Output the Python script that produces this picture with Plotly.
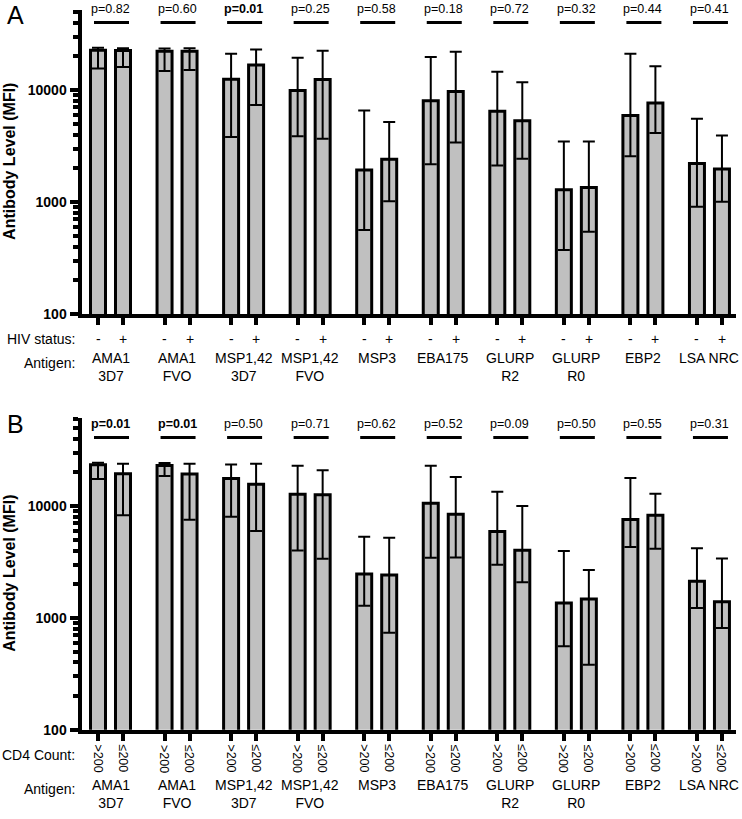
import plotly.graph_objects as go

# ---------------- data ----------------
antigens = ["AMA1<br>3D7", "AMA1<br>FVO", "MSP1,42<br>3D7", "MSP1,42<br>FVO", "MSP3",
            "EBA175", "GLURP<br>R2", "GLURP<br>R0", "EBP2", "LSA NRC"]

# Panel A: HIV status
hiv_labels = ["-", "+"]
hiv_neg = [22750, 22300, 12500, 9930, 1930, 8040, 6470, 1285, 5930, 2210]
hiv_neg_hi = [23900, 23500, 21140, 19450, 6560, 19720, 14620, 3480, 21140, 5540]
hiv_neg_lo = [15560, 14840, 3810, 3860, 561, 2170, 2120, 373, 2570, 908]
hiv_pos = [22600, 22300, 16750, 12420, 2415, 9730, 5320, 1350, 7680, 1970]
hiv_pos_hi = [23660, 23700, 23070, 22420, 5180, 21980, 11770, 3465, 16300, 3920]
hiv_pos_lo = [16070, 15130, 7360, 3680, 1015, 3400, 2440, 543, 4140, 1007]
p_hiv = [0.82, 0.60, 0.01, 0.25, 0.58, 0.18, 0.72, 0.32, 0.44, 0.41]

# Panel B: CD4 count
cd4_labels = [">200", "\u2264200"]
cd4_high = [23400, 23070, 17580, 12770, 2465, 10570, 5930, 1360, 7570, 2125]
cd4_high_hi = [24370, 24200, 23550, 22900, 5320, 22900, 13400, 3970, 17780, 4190]
cd4_high_lo = [17460, 18530, 8000, 4000, 1285, 3440, 2985, 557, 4300, 1225]
cd4_low = [19450, 19300, 15670, 12600, 2415, 8430, 4030, 1473, 8280, 1394]
cd4_low_hi = [23870, 23870, 23870, 20840, 5210, 18150, 10000, 2680, 12850, 3400]
cd4_low_lo = [8280, 7520, 5970, 3370, 736, 3470, 2085, 381, 4160, 811]
p_cd4 = [0.01, 0.01, 0.50, 0.71, 0.62, 0.52, 0.09, 0.50, 0.55, 0.31]

y_tick_vals = [100, 1000, 10000]
y_tick_text = ["100", "1000", "10000"]

# ---------------- layout helpers ----------------
W, H = 742, 819
FONT = "Liberation Sans, Arial, Helvetica, sans-serif"
BAR_COLOR = "#c0c0c0"
GROUP_STEP = 2.662


def pyp(p):
    return 1 - p / H


def pxp(p):
    return p / W


n = len(antigens)
x_first = [g * GROUP_STEP for g in range(n)]
x_second = [g * GROUP_STEP + 1 for g in range(n)]
x_center = [g * GROUP_STEP + 0.5 for g in range(n)]
x_all = sorted(x_first + x_second)

minor_vals = [k * 10 ** d for d in range(2, 5) for k in range(2, 10)]

fig = go.Figure()


def add_pair(vals1, hi1, lo1, vals2, hi2, lo2, xa, ya):
    for xs, v, hi, lo in ((x_first, vals1, hi1, lo1), (x_second, vals2, hi2, lo2)):
        fig.add_trace(go.Bar(
            x=xs, y=v, width=0.6, xaxis=xa, yaxis=ya,
            marker=dict(color=BAR_COLOR, line=dict(color="black", width=3)),
            error_y=dict(type="data", symmetric=False,
                         array=[h - a for h, a in zip(hi, v)],
                         arrayminus=[a - l for a, l in zip(v, lo)],
                         color="black", thickness=2, width=6),
            showlegend=False, hoverinfo="skip"))


add_pair(hiv_neg, hiv_neg_hi, hiv_neg_lo, hiv_pos, hiv_pos_hi, hiv_pos_lo, "x", "y")
add_pair(cd4_high, cd4_high_hi, cd4_high_lo, cd4_low, cd4_low_hi, cd4_low_lo, "x2", "y2")

xdom = [pxp(82), pxp(736)]
xrange_ = [-0.64, 25.52]
panels = [  # (top px, bottom px)
    (10, 317),
    (422, 737),
]
DEC = 113.0


def xaxis_cfg(anchor):
    return dict(domain=xdom, range=xrange_, anchor=anchor, showline=True, linecolor="black",
                linewidth=4, ticks="outside", tickvals=x_all, ticklen=7, tickwidth=4,
                tickcolor="black", showticklabels=False, showgrid=False, zeroline=False)


def yaxis_cfg(anchor, top, bot):
    return dict(domain=[pyp(bot), pyp(top)], type="log", range=[2, 2 + (bot - top) / DEC],
                anchor=anchor, showline=True, linecolor="black", linewidth=4.5,
                ticks="outside", tickvals=y_tick_vals, ticktext=y_tick_text, ticklen=8,
                tickwidth=4, tickcolor="black",
                tickfont=dict(family=FONT, size=14, color="black", weight="bold"),
                minor=dict(tickvals=minor_vals, ticks="outside", ticklen=5, tickwidth=4,
                           tickcolor="black", showgrid=False),
                showgrid=False, zeroline=False)


fig.update_layout(
    width=W, height=H, margin=dict(l=0, r=0, t=0, b=0),
    paper_bgcolor="white", plot_bgcolor="white", bargap=0,
    font=dict(family=FONT, color="black"),
    xaxis=xaxis_cfg("y"), yaxis=yaxis_cfg("x", *panels[0]),
    xaxis2=xaxis_cfg("y2"), yaxis2=yaxis_cfg("x2", *panels[1]),
)

ann = []
shapes = []


def txt(text, x, y, xref="paper", size=14, bold=False, xanchor="center", yanchor="middle",
        angle=0):
    ann.append(dict(text=text, x=x, y=y, xref=xref, yref="paper", showarrow=False,
                    xanchor=xanchor, yanchor=yanchor, textangle=angle,
                    font=dict(family=FONT, size=size, color="black",
                              weight="bold" if bold else "normal")))


# panel letters
txt("A", pxp(5), pyp(15), size=25, xanchor="left")
txt("B", pxp(5), pyp(428), size=25, xanchor="left")

# y titles
for (top, bot) in panels:
    txt("Antibody Level (MFI)", pxp(10), pyp((top + bot) / 2), size=16, bold=True, angle=-90)

# p-values + lines
for xref, pvals, ptxt_y, pline_y in (("x", p_hiv, 9, 22.7), ("x2", p_cd4, 428.3, 441.7)):
    for g in range(n):
        p = pvals[g]
        txt("p=%.2f" % p, x_center[g], pyp(ptxt_y), xref=xref, size=12.5, bold=p <= 0.01)
        shapes.append(dict(type="line", xref=xref, yref="paper",
                           x0=x_center[g] - 0.66, x1=x_center[g] + 0.74,
                           y0=pyp(pline_y), y1=pyp(pline_y),
                           line=dict(color="black", width=3)))

# Panel A group labels
txt("HIV status:", pxp(77), pyp(342.7), xanchor="right")
for g in range(n):
    txt(hiv_labels[0], x_first[g], pyp(342.7), xref="x")
    txt(hiv_labels[1], x_second[g], pyp(342.7), xref="x")
txt("Antigen:", pxp(77), pyp(367), xanchor="right")
for g in range(n):
    ann.append(dict(text=antigens[g], x=x_center[g], y=pyp(351), xref="x", yref="paper",
                    showarrow=False, xanchor="center", yanchor="top",
                    font=dict(family=FONT, size=14, color="black")))

# Panel B group labels
txt("CD4 Count:", pxp(77), pyp(762), xanchor="right")
for g in range(n):
    txt(cd4_labels[0], x_first[g], pyp(766), xref="x2", size=12.5, angle=90)
    txt(cd4_labels[1], x_second[g], pyp(766), xref="x2", size=12.5, angle=90)
txt("Antigen:", pxp(77), pyp(797), xanchor="right")
for g in range(n):
    ann.append(dict(text=antigens[g], x=x_center[g], y=pyp(782.5), xref="x2", yref="paper",
                    showarrow=False, xanchor="center", yanchor="top",
                    font=dict(family=FONT, size=14, color="black")))

fig.update_layout(annotations=ann, shapes=shapes)
fig.write_html("out.html",
               config={"displayModeBar": False, "staticPlot": True},
               post_script="document.body.style.margin='0';document.body.style.overflow='hidden';")
